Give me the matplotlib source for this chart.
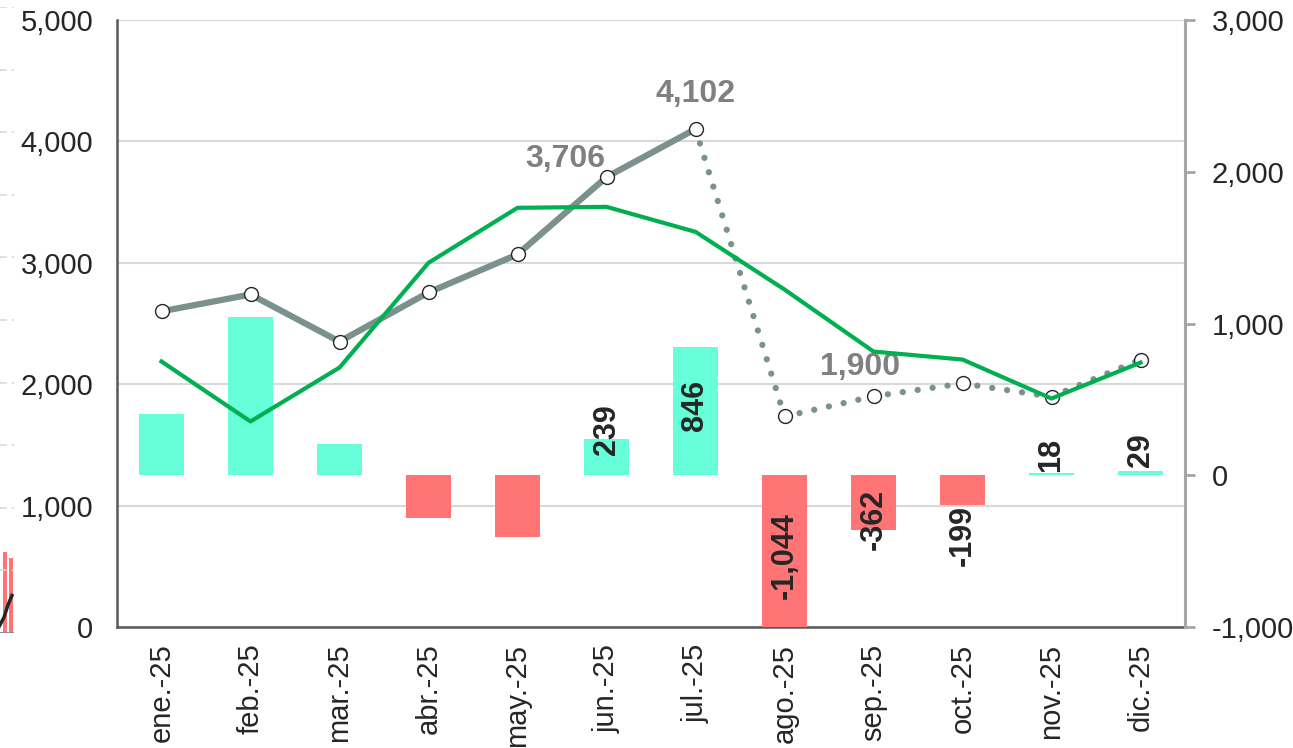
import matplotlib.pyplot as plt
import numpy as np

plt.rcParams['font.family'] = ['Liberation Sans', 'DejaVu Sans']

# data
months = ['ene.-25', 'feb.-25', 'mar.-25', 'abr.-25', 'may.-25', 'jun.-25',
          'jul.-25', 'ago.-25', 'sep.-25', 'oct.-25', 'nov.-25', 'dic.-25']
diff = [404, 1040, 205, -285, -404, 239, 846, -1044, -362, -199, 18, 29]
gray_vals = [2600, 2739, 2351, 2756, 3069, 3706, 4102, 1734, 1900, 2006, 1897, 2203]
green_vals = [2187, 1693, 2137, 3000, 3453, 3461, 3255, 2780, 2269, 2203, 1882, 2178]
solid_until = 6  # jul.-25, dotted afterwards
gray_labels = {5: '3,706', 6: '4,102', 8: '1,900'}
bar_labels_from = 5  # labels only from jun.-25

# label offsets (points) - placement only
bar_label_dy = {5: 6.5, 6: -42, 7: 56, 8: 8, 9: -21.5, 10: 13, 11: 15}
gray_label_off = {5: (-30, 13), 6: (0, 25), 8: (-10, 21)}

# leftover sliver of a neighbouring chart at the left edge
stub_grid = [1, 2, 3, 4, 5, 6, 7, 8, 9, 10]
stub_bar_x = [5, 11]
stub_bar_h = [1.29, 1.2]
stub_line_x = [-1, 4, 8, 12]
stub_line_y = [0.1, 0.25, 0.45, 0.6]

TEAL = '#66FFD9'
RED = '#FF7575'
GRAY = '#7A918E'
GREEN = '#00B050'
TXT = '#262626'

W, H = 1293, 748
fig = plt.figure(figsize=(W / 100, H / 100), dpi=100)
rect = [117 / W, 1 - 627 / H, (1185 - 117) / W, (627 - 20) / H]

x = np.arange(len(months))

# host: left scale, gridlines + labels
ax = fig.add_axes(rect)
ax.set_xlim(-0.5, len(months) - 0.5)
ax.set_ylim(0, 5000)
ax.set_yticks(range(0, 5001, 1000))
ax.set_yticklabels([f'{v:,}' for v in range(0, 5001, 1000)])
ax.grid(axis='y', color='#D9D9D9', lw=1.5)
ax.set_axisbelow(True)
ax.tick_params(axis='y', length=0, pad=17, labelsize=21, labelcolor=TXT)
ax.set_xticks(x)
ax.set_xticklabels(months, rotation=90, va='top', ha='center')
ax.tick_params(axis='x', length=0, pad=12, labelsize=21, labelcolor=TXT)
for s in ['top', 'right']:
    ax.spines[s].set_visible(False)
for s in ['left', 'bottom']:
    ax.spines[s].set_color('#595959')
    ax.spines[s].set_linewidth(1.8)

# bars on right scale
axb = ax.twinx()
axb.set_ylim(-1000, 3000)
axb.set_yticks(range(-1000, 3001, 1000))
axb.set_yticklabels([f'{v:,}' for v in range(-1000, 3001, 1000)])
axb.tick_params(axis='y', length=7, width=2, color='#A6A6A6', pad=12,
                labelsize=21, labelcolor=TXT)
for s in ['top', 'left', 'bottom']:
    axb.spines[s].set_visible(False)
axb.spines['right'].set_color('#A6A6A6')
axb.spines['right'].set_linewidth(2.2)
cols = [TEAL if v >= 0 else RED for v in diff]
axb.bar(x, diff, width=0.5, color=cols, zorder=2)
for i, v in enumerate(diff):
    if i < bar_labels_from:
        continue
    axb.annotate(f'{v:,}', (i, v), xytext=(0, bar_label_dy[i]),
                 textcoords='offset points', rotation=90, ha='center',
                 va='center', fontsize=22, fontweight='bold', color=TXT,
                 zorder=5, annotation_clip=False)

# lines on left scale, on top
axl = ax.twinx()
axl.set_ylim(0, 5000)
axl.axis('off')
axl.plot(x[:solid_until + 1], gray_vals[:solid_until + 1], color=GRAY,
         lw=4.5, solid_capstyle='round', zorder=3)
axl.plot(x[solid_until:], gray_vals[solid_until:], color=GRAY, lw=4.5,
         ls=(0, (0.01, 2.4)), dash_capstyle='round', zorder=3)
axl.plot(x, gray_vals, ls='none', marker='o', ms=10, mfc='white',
         mec='#262626', mew=1.0, zorder=4)
axl.plot(x, green_vals, color=GREEN, lw=3, zorder=5)
for i, t in gray_labels.items():
    axl.annotate(t, (i, gray_vals[i]), xytext=gray_label_off[i],
                 textcoords='offset points', ha='center', va='center',
                 fontsize=23, fontweight='bold', color='#808080')

# left-edge sliver
axs = fig.add_axes([0, 1 - 633 / H, 14 / W, 626 / H])
axs.set_xlim(0, 14)
axs.set_ylim(0, 10)
axs.axis('off')
for g in stub_grid:
    axs.axhline(g, color='#D9D9D9', lw=1.2, ls=(0, (4, 3)))
axs.bar(stub_bar_x, stub_bar_h, width=4, color=RED)
axs.plot(stub_line_x, stub_line_y, color='#262626', lw=2.5)
axs.axhline(0, color=GRAY, lw=2)

fig.savefig('out.png', dpi=100)
